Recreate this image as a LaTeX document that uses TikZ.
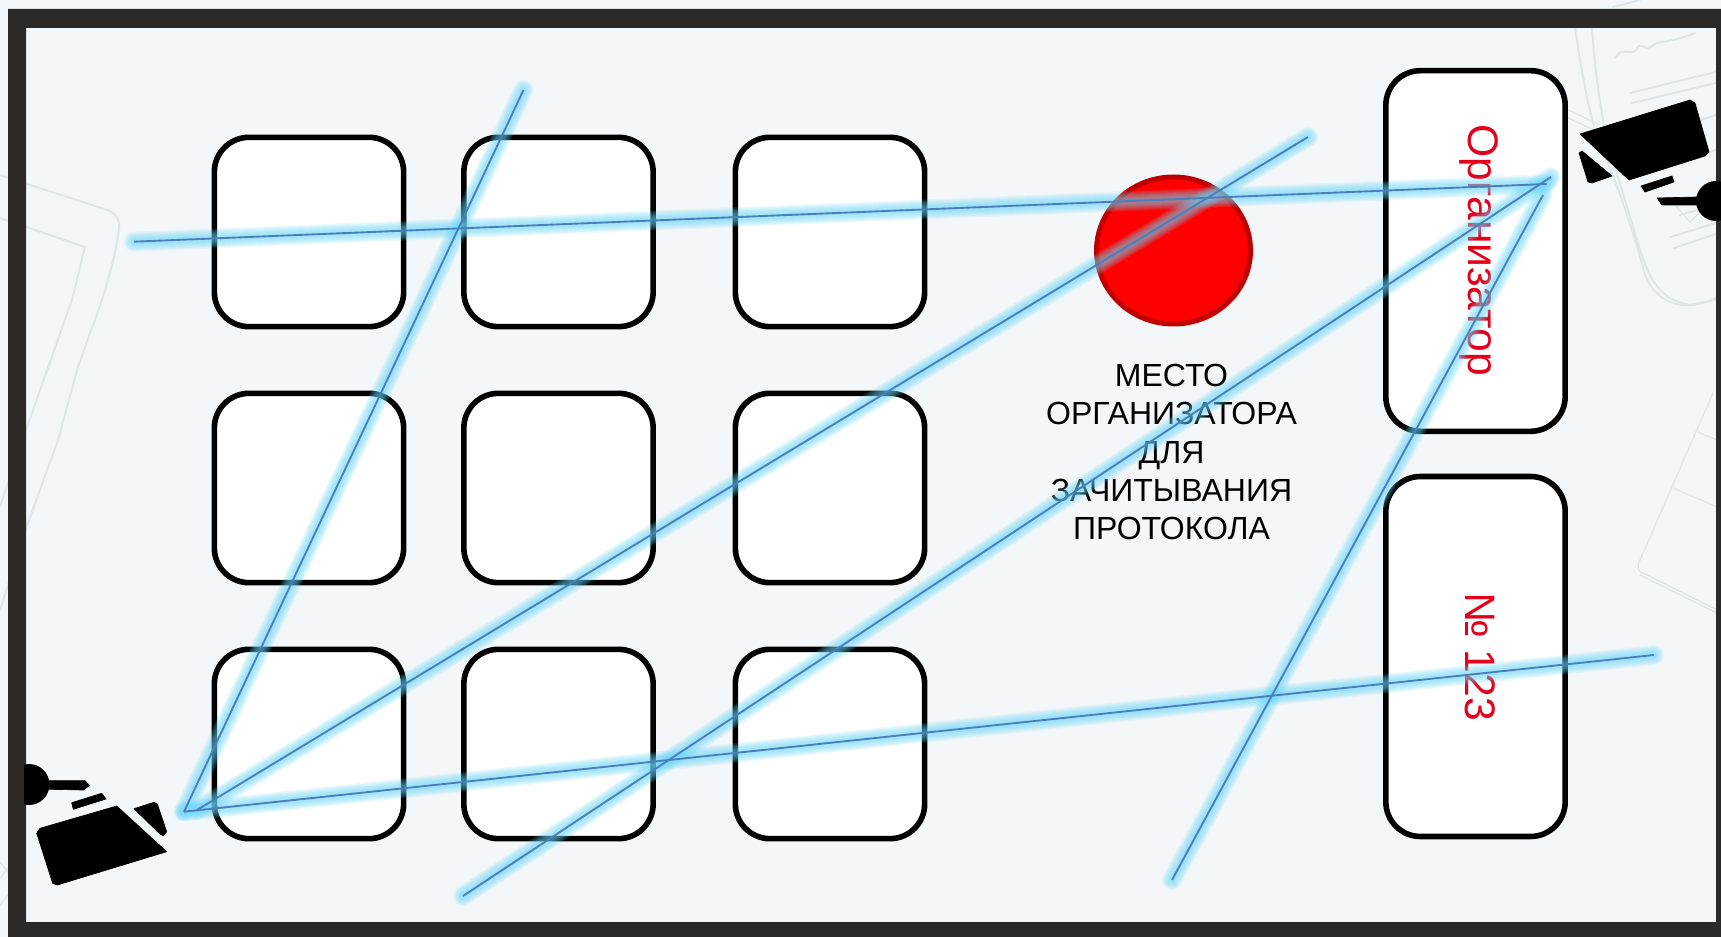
\documentclass[tikz,border=0pt]{standalone}
\usepackage{fontspec}
\usetikzlibrary{shapes.geometric}
\setmainfont{Liberation Sans}
\definecolor{pagebg}{HTML}{F3F7FA}
\definecolor{framec}{HTML}{2B2A29}
\definecolor{sketch}{HTML}{DDE7E9}
\definecolor{glowc}{HTML}{66D8F8}
\definecolor{linec}{HTML}{4A7EBD}
\definecolor{redtxt}{HTML}{E2001A}
\definecolor{placeedge}{HTML}{C00000}
\tikzset{
  desk/.style={draw=black,fill=white,line width=4.2pt,rounded corners=26pt,inner sep=0pt,minimum width=142pt,minimum height=142pt},
  tallbox/.style={draw=black,fill=white,line width=4.2pt,rounded corners=26pt,inner sep=0pt,minimum width=134.5pt},
  vtext/.style={text=redtxt,font=\fontsize{32pt}{32pt}\selectfont,rotate=-90,inner sep=0pt},
  sk/.style={draw=sketch,line width=1.5pt,line cap=round,line join=round},
  skthin/.style={draw=sketch,line width=1pt,line cap=round,line join=round},
  cam/.style={fill=black,draw=black,line width=.5pt,line join=round},
}
\newcommand{\beam}[2]{%
  \foreach \w in {15,13.5,12,10.5,9,7.5,6,4.5}{\draw[glowc,line width=\w pt,opacity=.1,line cap=round] (#1) -- (#2);}
}
\begin{document}
\begin{tikzpicture}[x=0.75pt,y=-0.75pt]
\useasboundingbox (0,0) rectangle (1721,937);
\fill[pagebg] (0,0) rectangle (1721,937);
% background sketches: left
\draw[sk] (0,175) -- (107,210) .. controls (117,214) and (120,220) .. (119,228) .. controls (116,255) and (108,280) .. (102,300) -- (78,367) -- (58,440) -- (28,523) -- (0,610);
\draw[sk] (0,218) -- (85,247) -- (72,300) -- (27,427) -- (0,507);
\draw[skthin] (0,862) -- (8,872) (0,878) -- (8,868) (0,905) -- (8,895);
% background sketches: right middle
\draw[skthin] (1713,393) -- (1640,560) .. controls (1636,568) and (1638,572) .. (1645,574) -- (1717,610);
\draw[skthin] (1640,575) -- (1717,613);
\draw[skthin] (1698,432) -- (1717,440) (1673,488) -- (1717,507);
% background sketches: right top
\draw[sk] (1575,28) .. controls (1582,75) and (1590,120) .. (1602,150) .. controls (1612,170) and (1632,225) .. (1645,275) .. controls (1655,300) and (1680,315) .. (1716,298);
\draw[sk] (1592,28) .. controls (1594,60) and (1600,110) .. (1608,145) -- (1622,190) -- (1640,250) .. controls (1650,280) and (1660,300) .. (1690,305) -- (1716,300);
\draw[sk] (1615,58) .. controls (1622,46) and (1630,56) .. (1636,50) .. controls (1640,40) and (1645,52) .. (1652,46) .. controls (1658,40) and (1668,44) .. (1695,33);
\draw[sk] (1630,93) -- (1716,72) (1632,103) -- (1716,83) (1640,140) -- (1716,115) (1650,170) -- (1716,150);
\draw[sk] (1670,237) -- (1716,223) (1674,248) -- (1716,234) (1680,215) -- (1716,205);
\draw[sk] (1613,7) -- (1640,0);
\draw[skthin] (1568,110) -- (1600,125) (1568,118) -- (1598,132);
\draw[skthin] (1675,205) -- (1690,222) -- (1700,212);
% frame
\fill[framec,even odd rule] (8,9) rectangle (1721,937) (26,28) rectangle (1716,922);
% desks
\node[desk] (d11) at (309,232) {};
\node[desk] (d12) at (558.5,232) {};
\node[desk] (d13) at (830,232) {};
\node[desk] (d21) at (309,488) {};
\node[desk] (d22) at (558.5,488) {};
\node[desk] (d23) at (830,488) {};
\node[desk] (d31) at (309,744) {};
\node[desk] (d32) at (558.5,744) {};
\node[desk] (d33) at (830,744) {};
% organiser boxes
\node[tallbox,minimum height=270.5pt] (org) at (1475.5,251) {};
\node[tallbox,minimum height=270pt] (num) at (1475.5,656.5) {};
\node[vtext] (orgt) at (1479,250.5) {Организатор};
\node[vtext] (numt) at (1480,656.5) {№ 123};
% red place
\node[ellipse,draw=placeedge,fill=red,line width=3.75pt,inner sep=0pt,minimum width=115.5pt,minimum height=110.25pt] (place) at (1173.5,250.5) {};
\node[align=center,inner sep=0pt,font=\fontsize{24pt}{28.7pt}\selectfont] (lbl) at (1171.5,452) {МЕСТО\\ОРГАНИЗАТОРА\\ДЛЯ\\ЗАЧИТЫВАНИЯ\\ПРОТОКОЛА};
% beam end points
\coordinate (a1) at (134,241.7);
\coordinate (b1) at (1546.7,184);
\coordinate (a2) at (184,811.7);
\coordinate (b2) at (523.5,90);
\coordinate (a3) at (197,810);
\coordinate (b3) at (1308,137);
\coordinate (a4) at (463,896);
\coordinate (b4) at (1551,177);
\coordinate (a5) at (1172,880);
\coordinate (b5) at (1543,195);
\coordinate (a6) at (184,811.7);
\coordinate (b6) at (1654,655);
\beam{a1}{b1}\beam{a2}{b2}\beam{a3}{b3}\beam{a4}{b4}\beam{a5}{b5}\beam{a6}{b6}
\foreach \p/\q in {a1/b1,a2/b2,a3/b3,a4/b4,a5/b5,a6/b6}{\draw[linec,line width=1.4pt] (\p) -- (\q);}
% top-right camera
\fill[cam] (1580,134) -- (1690,100) -- (1695,103) -- (1709,152) -- (1705,156) -- (1629,180) -- cycle;
\fill[cam] (1579,153) -- (1582,151) -- (1612,176) -- (1592,183) -- (1588,182) -- cycle;
\fill[cam] (1641,186) -- (1672,176) -- (1674,182) -- (1645,192) -- cycle;
\fill[cam] (1657,198) -- (1697,197) -- (1697,205) -- (1662,205) -- cycle;
\fill[black] (1716,201) circle [radius=20];
% bottom-left camera
\fill[cam] (116.7,806) -- (166.7,851.7) -- (57.3,885) -- (52.7,883.3) -- (36.7,833.3) -- (40,828.3) -- cycle;
\fill[cam] (134,808.7) -- (154,802.3) -- (157.3,804) -- (166.7,831.7) -- (163.3,835.7) -- (160,834) -- cycle;
\fill[cam] (71.7,802.7) -- (101.7,793.3) -- (106,799) -- (73.3,809.3) -- cycle;
\fill[cam] (49.3,780.7) -- (85,780.7) -- (89.3,785.7) -- (83.3,790) -- (49.3,789.3) -- cycle;
\begin{scope}
\clip (24,760) rectangle (60,810);
\fill[black] (29,784.5) circle [radius=20.5];
\end{scope}
\end{tikzpicture}
\end{document}
